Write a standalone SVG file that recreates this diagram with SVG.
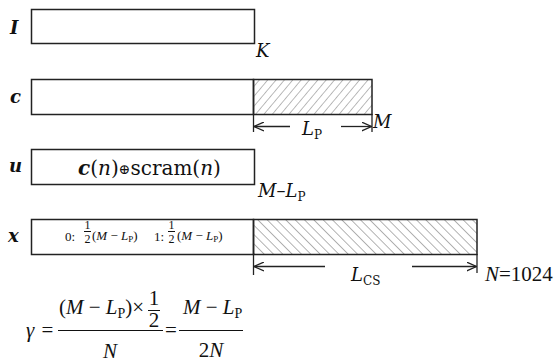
<svg xmlns="http://www.w3.org/2000/svg" width="558" height="362" viewBox="0 0 558 362">
<style>
text{font-family:"Liberation Serif","Times New Roman",serif;fill:#111}
.dv{font-family:"DejaVu Serif","Liberation Serif",serif}
.box{fill:#fff;stroke:#222;stroke-width:1.5}
.lbl{font-family:"DejaVu Serif","Liberation Serif",serif;font-weight:bold;font-style:italic;font-size:18px}
.it{font-style:italic}
.t{font-family:"DejaVu Serif","Liberation Serif",serif;font-size:18px}
.dim{stroke:#222;stroke-width:1.3;fill:none}
.tick{stroke:#222;stroke-width:1.3}
.bar{stroke:#111;stroke-width:1}
</style>
<defs>
<pattern id="hf" width="6.4" height="10" patternUnits="userSpaceOnUse" patternTransform="rotate(40)">
<line x1="0" y1="0" x2="0" y2="10" stroke="#777" stroke-width="1"/>
</pattern>
<pattern id="hb" width="6.6" height="10" patternUnits="userSpaceOnUse" patternTransform="rotate(-45)">
<line x1="0" y1="0" x2="0" y2="10" stroke="#666" stroke-width="1"/>
</pattern>
<marker id="arr" viewBox="0 0 10 10" refX="10" refY="5" markerWidth="10" markerHeight="10" markerUnits="userSpaceOnUse" orient="auto-start-reverse">
<path d="M0,0.5 L10,5 L0,9.5" fill="none" stroke="#222" stroke-width="1.3"/>
</marker>
</defs>

<g id="row-I">
<text class="lbl" x="10" y="34">I</text>
<rect class="box" x="31.5" y="9.5" width="223" height="34"/>
<text class="t it" x="256" y="57">K</text>
</g>

<g id="row-c">
<text class="lbl" x="10" y="103">c</text>
<rect class="box" x="31.5" y="79.5" width="222" height="35"/>
<rect x="253.5" y="79.5" width="118.5" height="35" fill="url(#hf)" stroke="#222" stroke-width="1.5"/>
<text class="t it" x="373" y="128">M</text>
<text class="t" x="302" y="135"><tspan class="it">L</tspan><tspan font-size="12" dy="4">P</tspan></text>
</g>

<g id="row-u">
<text class="lbl" x="9" y="172">u</text>
<rect class="box" x="31.5" y="149.5" width="223" height="35"/>
<text class="dv" x="78" y="175" font-size="20"><tspan font-weight="bold" font-style="italic">c</tspan>(<tspan class="it">n</tspan>)<tspan font-size="14" dy="-1">⊕</tspan><tspan dy="1">scram(</tspan><tspan class="it">n</tspan>)</text>
<text class="t" x="258" y="197"><tspan class="it">M</tspan>–<tspan class="it">L</tspan><tspan font-size="12" dy="4">P</tspan></text>
</g>

<g id="row-x">
<text class="lbl" x="8" y="242">x</text>
<rect class="box" x="31.5" y="219.5" width="222" height="35"/>
<rect x="253.5" y="219.5" width="223.5" height="35" fill="url(#hb)" stroke="#222" stroke-width="1.5"/>
<g font-size="13">
<text x="65" y="241">0:</text>
<text x="87.5" y="229" text-anchor="middle" font-size="12">1</text>
<line class="bar" x1="84" y1="231.5" x2="91" y2="231.5"/>
<text x="87.5" y="243" text-anchor="middle" font-size="12">2</text>
<text x="92" y="240">(<tspan class="it">M</tspan> − <tspan class="it">L</tspan><tspan font-size="9" dy="2">P</tspan><tspan dy="-2">)</tspan></text>
<text x="154" y="241">1:</text>
<text x="171.5" y="229" text-anchor="middle" font-size="12">1</text>
<line class="bar" x1="168" y1="231.5" x2="175" y2="231.5"/>
<text x="171.5" y="243" text-anchor="middle" font-size="12">2</text>
<text x="177" y="240">(<tspan class="it">M</tspan> − <tspan class="it">L</tspan><tspan font-size="9" dy="2">P</tspan><tspan dy="-2">)</tspan></text>
</g>
<text class="t" x="351" y="281"><tspan class="it">L</tspan><tspan font-size="12" dy="4">CS</tspan></text>
<text x="485" y="281" font-size="21"><tspan class="it">N</tspan>=1024</text>
</g>

<g id="connectors">
<line class="tick" x1="253.5" y1="114" x2="253.5" y2="132"/>
<line class="tick" x1="372" y1="114" x2="372" y2="132"/>
<line class="dim" x1="254" y1="126.5" x2="290" y2="126.5" marker-start="url(#arr)"/>
<line class="dim" x1="341" y1="126.5" x2="371.5" y2="126.5" marker-end="url(#arr)"/>
<line class="tick" x1="253.5" y1="254" x2="253.5" y2="275"/>
<line class="tick" x1="477" y1="254" x2="477" y2="273"/>
<line class="dim" x1="254" y1="266.5" x2="325" y2="266.5" marker-start="url(#arr)"/>
<line class="dim" x1="412" y1="266.5" x2="476.5" y2="266.5" marker-end="url(#arr)"/>
</g>

<g id="formula" font-size="21">
<text x="26" y="337" class="it">γ</text>
<text x="47.5" y="337" text-anchor="middle">=</text>
<text x="59" y="314">(<tspan class="it">M</tspan> − <tspan class="it">L</tspan><tspan font-size="14" dy="4">P</tspan><tspan dy="-4">)×</tspan></text>
<text x="154" y="305" text-anchor="middle">1</text>
<line class="bar" x1="148" y1="310.5" x2="160" y2="310.5"/>
<text x="154" y="327" text-anchor="middle">2</text>
<line class="bar" x1="58" y1="330.5" x2="163" y2="330.5"/>
<text x="110" y="358" text-anchor="middle" class="it">N</text>
<text x="171" y="337" text-anchor="middle">=</text>
<text x="183" y="314"><tspan class="it">M</tspan> − <tspan class="it">L</tspan><tspan font-size="14" dy="4">P</tspan></text>
<line class="bar" x1="179" y1="330.5" x2="243" y2="330.5"/>
<text x="211" y="357" text-anchor="middle">2<tspan class="it">N</tspan></text>
</g>
</svg>
